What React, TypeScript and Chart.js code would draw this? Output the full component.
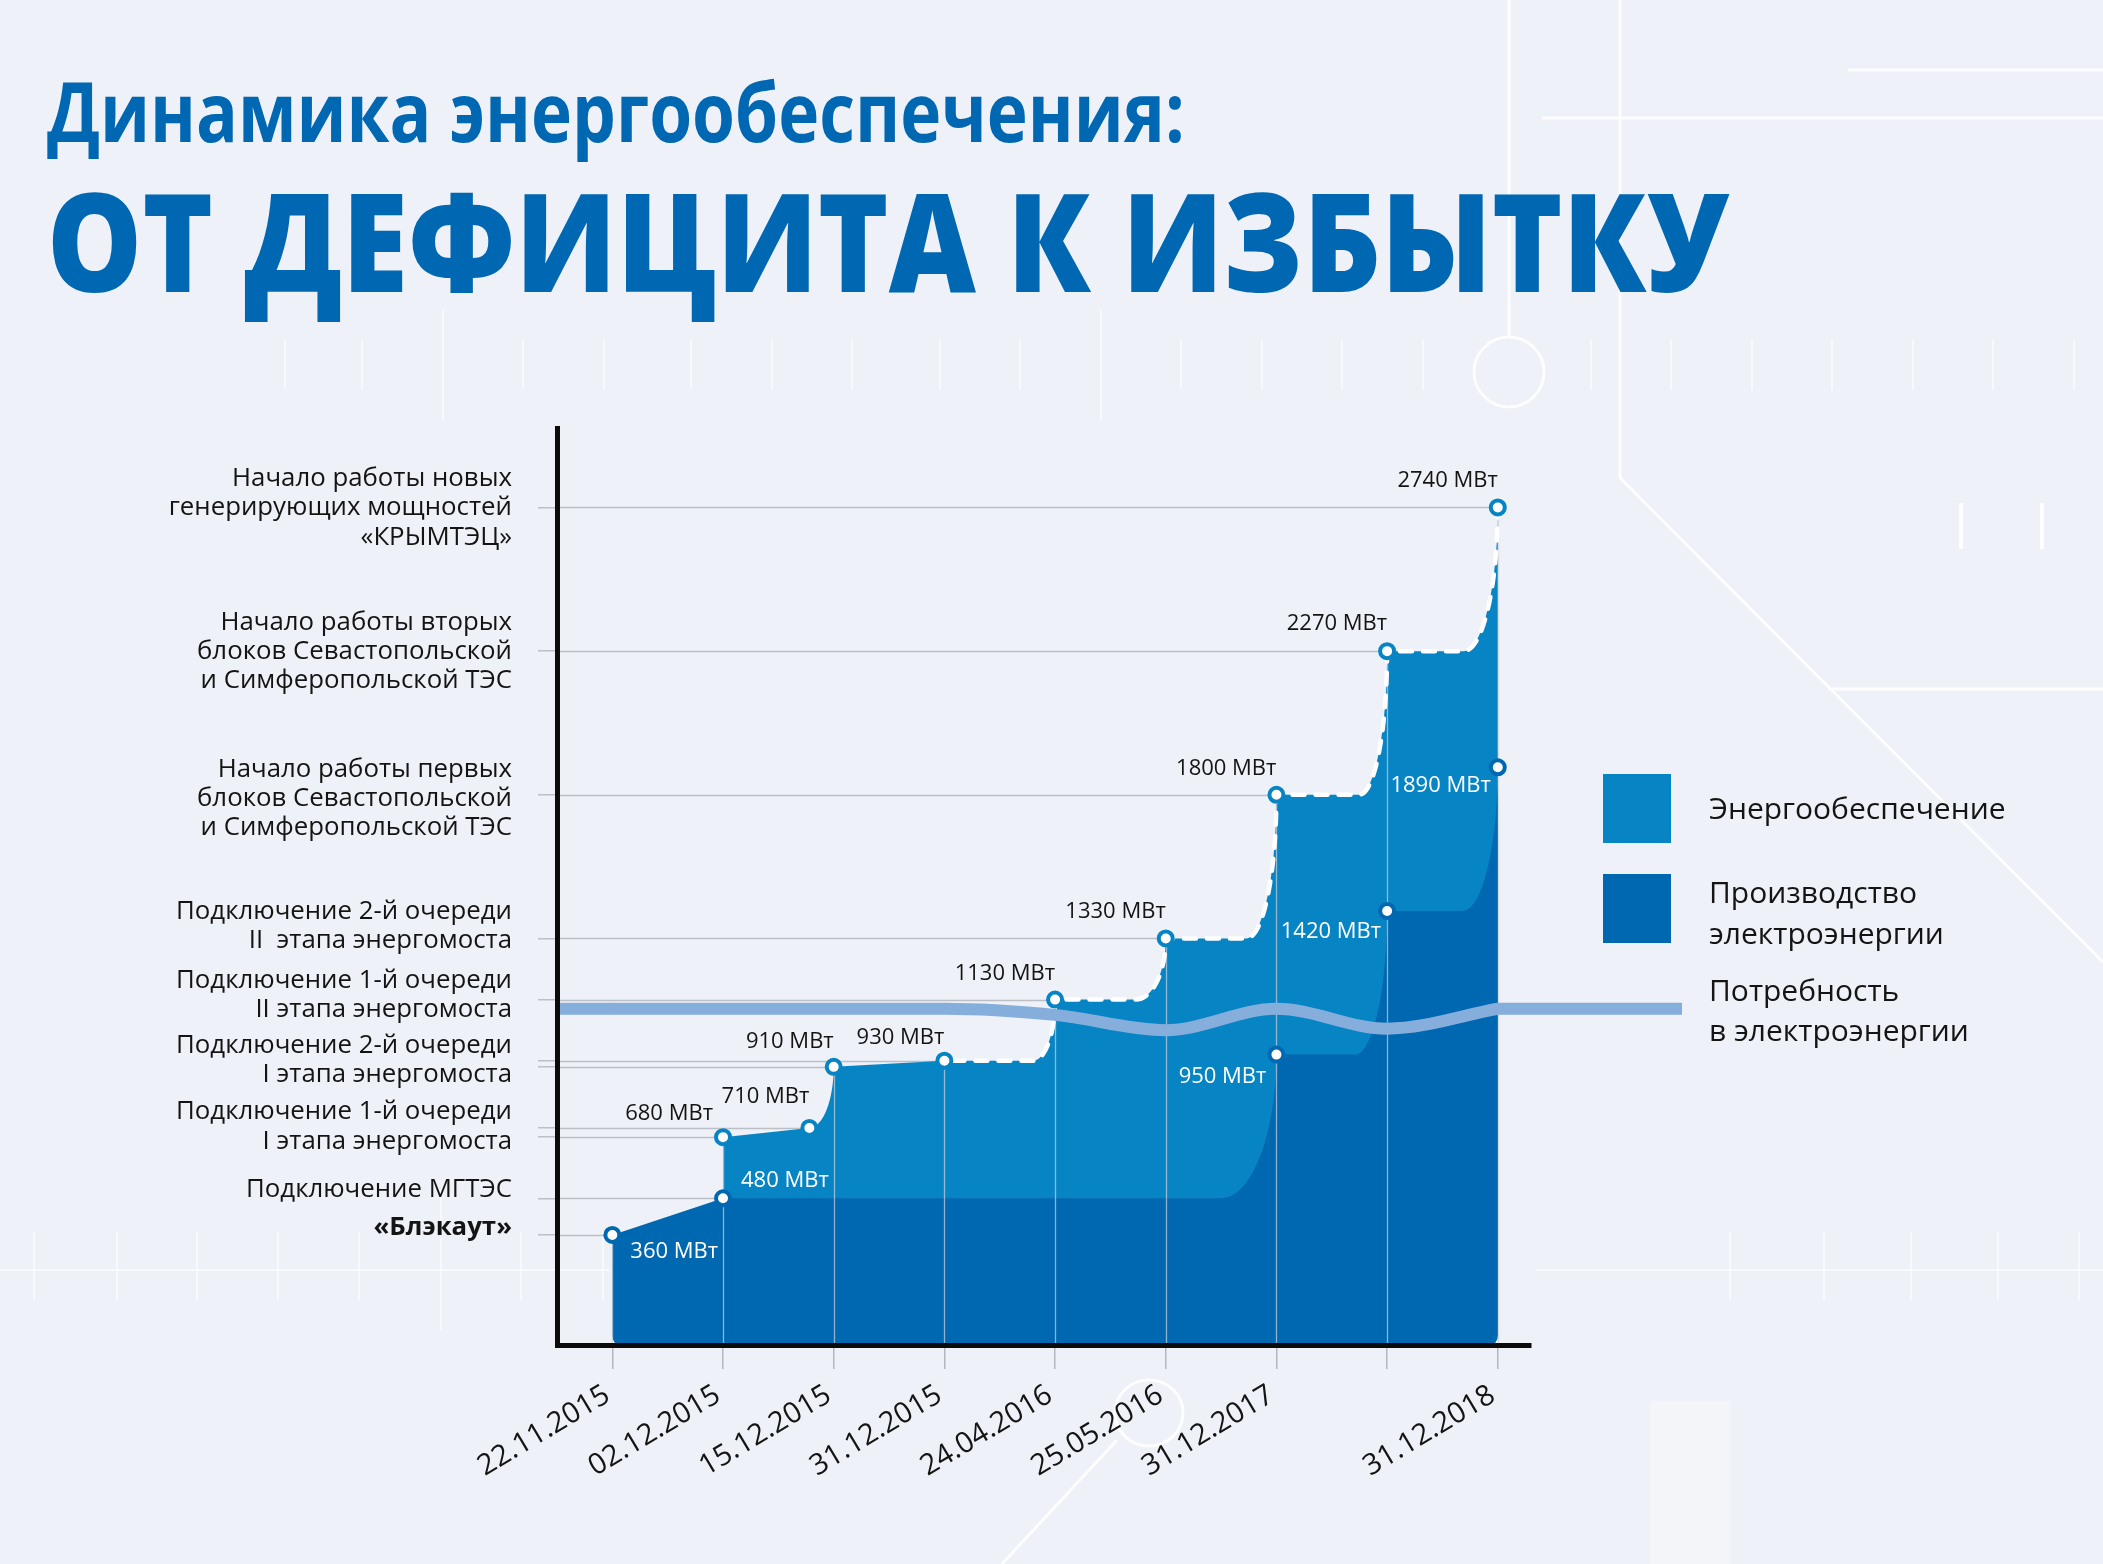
import React, { useEffect, useRef } from 'react';
import { Chart, registerables } from 'chart.js';

Chart.register(...registerables);

// ---------------- data ----------------
const dateLabels = ['22.11.2015', '02.12.2015', '15.12.2015', '31.12.2015', '24.04.2016', '25.05.2016', '31.12.2017', '', '31.12.2018'];
const dateIndex = [0, 1, 2, 3, 4, 5, 6, 7, 8];

const supplyPos = [0, 1, 1.78, 2, 3, 4, 5, 6, 7, 8];
const supplyMW = [360, 680, 710, 910, 930, 1130, 1330, 1800, 2270, 2740];

const productionPos = [0, 1, 6, 7, 8];
const productionMW = [360, 480, 950, 1420, 1890];

const demandPos = [0, 1, 2, 3, 4, 5, 6, 7, 8];
const demandMW = [1100, 1100, 1100, 1100, 1080, 1030, 1100, 1035, 1100];

const gridMW = [360, 480, 680, 710, 910, 930, 1130, 1330, 1800, 2270, 2740];
const milestoneMW = [2740, 2270, 1800, 1330, 1130, 930, 710, 480, 360];
const milestoneLabels = [
  ['Начало работы новых', 'генерирующих мощностей', '«КРЫМТЭЦ»'],
  ['Начало работы вторых', 'блоков Севастопольской', 'и Симферопольской ТЭС'],
  ['Начало работы первых', 'блоков Севастопольской', 'и Симферопольской ТЭС'],
  ['Подключение 2-й очереди', 'II  этапа энергомоста'],
  ['Подключение 1-й очереди', 'II этапа энергомоста'],
  ['Подключение 2-й очереди', 'I этапа энергомоста'],
  ['Подключение 1-й очереди', 'I этапа энергомоста'],
  ['Подключение МГТЭС'],
  ['«Блэкаут»'],
];
const legendLabels = [['Энергообеспечение'], ['Производство', 'электроэнергии'], ['Потребность', 'в электроэнергии']];
const titleLines = ['Динамика энергообеспечения:', 'ОТ ДЕФИЦИТА К ИЗБЫТКУ'];
const unit = 'МВт';

// ---------------- styles ----------------
const C = {
  bg: '#EEF1F7',
  supply: '#0784C3',
  prod: '#0067B1',
  demand: '#86AEDC',
  title: '#0067B3',
  text: '#141414',
  grid: '#bcc0c6',
};
const FONT = '"Open Sans", "Noto Sans", sans-serif';

// shape of each segment (point i -> i+1)
const supplySeg = ['step', 'line', 'round', 'line', 'round', 'round', 'round', 'round', 'round'];
const supplyRound = [0, 0, 40, 0, 22, 30, 30, 28, 34];
const prodSeg = ['line', 'round', 'round', 'round'];
const prodRound = [0, 55, 32, 35];
const dashFrom = 4;

const supplyLabelDx = [0, -10, 0, 0, 0, 0, 0, 0, 0, 0];
const supplyLabelDy = [0, -25, -33, -27, -25, -28, -28, -28, -29, -28];
const prodLabelAlign = ['left', 'left', 'right', 'right', 'right'];
const prodLabelDx = [18, 18, -10, -6, -7];
const prodLabelDy = [15, -19, 20, 19, 17];
const milestoneShift = [0, 0, 3, -13, -5, -1, -2, -9, -8];
const milestoneBold = [false, false, false, false, false, false, false, false, true];

type P = { x: number; y: number };

function tracePath(ctx: CanvasRenderingContext2D, pts: P[], seg: string[], rw: number[], start: number, move: boolean) {
  if (move) ctx.moveTo(pts[start].x, pts[start].y);
  else ctx.lineTo(pts[start].x, pts[start].y);
  for (let i = start + 1; i < pts.length; i++) {
    const a = pts[i - 1];
    const b = pts[i];
    const kind = seg[i - 1];
    if (kind === 'line') ctx.lineTo(b.x, b.y);
    else if (kind === 'step') {
      ctx.lineTo(b.x, a.y);
      ctx.lineTo(b.x, b.y);
    } else {
      const w = Math.min(rw[i - 1], b.x - a.x);
      const h = a.y - b.y;
      ctx.lineTo(b.x - w, a.y);
      ctx.bezierCurveTo(b.x - w + 0.5523 * w, a.y, b.x, b.y + 0.5523 * h, b.x, b.y);
    }
  }
}

function fillArea(ctx: CanvasRenderingContext2D, pts: P[], seg: string[], rw: number[], bottom: number, color: string) {
  const r = 10;
  const f = pts[0];
  const l = pts[pts.length - 1];
  ctx.beginPath();
  ctx.moveTo(f.x, bottom - r);
  tracePath(ctx, pts, seg, rw, 0, false);
  ctx.lineTo(l.x, bottom - r);
  ctx.quadraticCurveTo(l.x, bottom, l.x - r, bottom);
  ctx.lineTo(f.x + r, bottom);
  ctx.quadraticCurveTo(f.x, bottom, f.x, bottom - r);
  ctx.closePath();
  ctx.fillStyle = color;
  ctx.fill();
}

function fitText(ctx: CanvasRenderingContext2D, text: string, x: number, y: number, target: number, font: string) {
  ctx.save();
  ctx.font = font;
  ctx.textAlign = 'left';
  ctx.textBaseline = 'alphabetic';
  const m = ctx.measureText(text);
  const w = m.actualBoundingBoxLeft + m.actualBoundingBoxRight;
  const s = target / w;
  ctx.translate(x + m.actualBoundingBoxLeft * s, y);
  ctx.scale(s, 1);
  ctx.fillText(text, 0, 0);
  ctx.restore();
}

const infographic = {
  id: 'infographic',
  beforeDraw(chart: any) {
    const { ctx, width, height } = chart;
    ctx.save();
    ctx.fillStyle = C.bg;
    ctx.fillRect(0, 0, width, height);

    // faint decorative background
    const seg = (x1: number, y1: number, x2: number, y2: number) => {
      ctx.beginPath();
      ctx.moveTo(x1, y1);
      ctx.lineTo(x2, y2);
      ctx.stroke();
    };
    ctx.strokeStyle = 'rgba(255,255,255,0.85)';
    ctx.lineWidth = 3;
    seg(1509, 0, 1509, 336);
    ctx.beginPath();
    ctx.arc(1509, 372, 35, 0, Math.PI * 2);
    ctx.stroke();
    seg(1620, 0, 1620, 478);
    seg(1620, 478, 2103, 962);
    seg(1828, 689, 2103, 689);
    seg(1542, 118, 2103, 118);
    seg(1848, 70, 2103, 70);
    seg(1002, 1564, 1117, 1440);
    ctx.beginPath();
    ctx.ellipse(1149, 1413, 34, 33, 0, 0, Math.PI * 2);
    ctx.stroke();
    ctx.lineWidth = 4;
    seg(1961, 503, 1961, 549);
    seg(2042, 503, 2042, 549);
    ctx.strokeStyle = 'rgba(255,255,255,0.55)';
    ctx.lineWidth = 2;
    const row = [285, 362, 523, 604, 691, 772, 852, 940, 1020, 1181, 1262, 1342, 1423, 1591, 1671, 1752, 1832, 1913, 1993, 2074];
    row.forEach((x) => seg(x, 340, x, 390));
    seg(443, 310, 443, 420);
    seg(1101, 310, 1101, 420);
    seg(0, 1270, 610, 1270);
    seg(1536, 1270, 2103, 1270);
    [34, 117, 197, 278, 359, 521, 603, 1730, 1824, 1911, 1998, 2079].forEach((x) => seg(x, 1232, x, 1300));
    seg(441, 1190, 441, 1330);
    ctx.fillStyle = 'rgba(255,255,255,0.3)';
    ctx.fillRect(1650, 1401, 80, 163);

    // titles
    ctx.fillStyle = C.title;
    fitText(ctx, titleLines[0], 47, 142, 1134, `700 82px ${FONT}`);
    fitText(ctx, titleLines[1], 52, 292, 1678, `800 136px ${FONT}`);

    // legend
    ctx.fillStyle = C.supply;
    ctx.fillRect(1603, 774, 68, 69);
    ctx.fillStyle = C.prod;
    ctx.fillRect(1603, 874, 68, 69);
    ctx.fillStyle = C.text;
    ctx.font = `400 30px ${FONT}`;
    ctx.textAlign = 'left';
    ctx.textBaseline = 'alphabetic';
    const legendY = [[809], [893, 934], [991, 1031]];
    legendLabels.forEach((lines, i) => lines.forEach((t, j) => ctx.fillText(t, 1709, legendY[i][j] + 10)));
    ctx.restore();
  },
  beforeDatasetsDraw(chart: any) {
    const { ctx, chartArea: a } = chart;
    const xs = chart.scales.x;
    const ys = chart.scales.y;
    const sp: P[] = supplyPos.map((p, i) => ({ x: xs.getPixelForValue(p), y: ys.getPixelForValue(supplyMW[i]) }));
    const pp: P[] = productionPos.map((p, i) => ({ x: xs.getPixelForValue(p), y: ys.getPixelForValue(productionMW[i]) }));
    ctx.save();
    // horizontal grid lines ending at their point
    ctx.strokeStyle = C.grid;
    ctx.lineWidth = 1.5;
    gridMW.forEach((v) => {
      const k = supplyMW.indexOf(v);
      const px = k >= 0 ? sp[k].x : pp[productionMW.indexOf(v)].x;
      const py = Math.round(ys.getPixelForValue(v)) + 0.5;
      ctx.beginPath();
      ctx.moveTo(a.left, py);
      ctx.lineTo(px, py);
      ctx.stroke();
    });
    // areas
    fillArea(ctx, sp, supplySeg, supplyRound, a.bottom, C.supply);
    fillArea(ctx, pp, prodSeg, prodRound, a.bottom, C.prod);
    // drop lines
    ctx.strokeStyle = 'rgba(205,210,220,0.7)';
    ctx.lineWidth = 1.3;
    dateIndex.forEach((d) => {
      const k = supplyPos.indexOf(d);
      const px = Math.round(xs.getPixelForValue(d)) + 0.5;
      ctx.beginPath();
      ctx.moveTo(px, sp[k].y);
      ctx.lineTo(px, a.bottom);
      ctx.stroke();
    });
    // dashed outline of the supply top
    ctx.beginPath();
    tracePath(ctx, sp, supplySeg, supplyRound, dashFrom, true);
    ctx.strokeStyle = '#ffffff';
    ctx.lineWidth = 4.5;
    ctx.lineCap = 'round';
    ctx.setLineDash([12, 11]);
    ctx.lineDashOffset = -8;
    ctx.stroke();
    ctx.restore();
  },
  afterDatasetsDraw(chart: any) {
    const { ctx, chartArea: a } = chart;
    const xs = chart.scales.x;
    const ys = chart.scales.y;
    ctx.save();
    // demand line extensions: from the axis, and out to the legend
    ctx.strokeStyle = C.demand;
    ctx.lineWidth = 12;
    ctx.lineCap = 'butt';
    const d0y = ys.getPixelForValue(demandMW[0]);
    const dNy = ys.getPixelForValue(demandMW[demandMW.length - 1]);
    ctx.beginPath();
    ctx.moveTo(a.left, d0y);
    ctx.lineTo(xs.getPixelForValue(demandPos[0]) + 1, d0y);
    ctx.stroke();
    ctx.beginPath();
    ctx.moveTo(xs.getPixelForValue(demandPos[demandPos.length - 1]) - 1, dNy);
    ctx.lineTo(1682, dNy);
    ctx.stroke();

    // value labels
    ctx.font = `400 22px ${FONT}`;
    ctx.textBaseline = 'alphabetic';
    supplyMW.forEach((v, i) => {
      if (i === 0) return;
      const px = xs.getPixelForValue(supplyPos[i]);
      const py = ys.getPixelForValue(v);
      ctx.fillStyle = C.text;
      ctx.textAlign = 'right';
      ctx.fillText(`${v} ${unit}`, px + supplyLabelDx[i], py + supplyLabelDy[i] + 8);
    });
    productionMW.forEach((v, i) => {
      const px = xs.getPixelForValue(productionPos[i]);
      const py = ys.getPixelForValue(v);
      ctx.fillStyle = '#ffffff';
      ctx.textAlign = prodLabelAlign[i] as CanvasTextAlign;
      ctx.fillText(`${v} ${unit}`, px + prodLabelDx[i], py + prodLabelDy[i] + 8);
    });

    // milestone (y-axis) labels
    ctx.fillStyle = C.text;
    ctx.textAlign = 'right';
    const lh = 29.3;
    milestoneMW.forEach((v, i) => {
      const lines = milestoneLabels[i];
      const cy = ys.getPixelForValue(v) + milestoneShift[i];
      const top = cy - ((lines.length - 1) * lh) / 2;
      ctx.font = `${milestoneBold[i] ? 700 : 400} 25.8px ${FONT}`;
      lines.forEach((t, j) => ctx.fillText(t, 512, top + j * lh + 8));
    });
    ctx.restore();
  },
};

export default function App() {
  const ref = useRef<HTMLCanvasElement>(null);
  useEffect(() => {
    const canvas = ref.current;
    if (!canvas) return;
    const chart = new Chart(canvas, {
      type: 'line',
      data: {
        datasets: [
          {
            label: 'Потребность в электроэнергии',
            data: demandPos.map((x, i) => ({ x, y: demandMW[i] })),
            borderColor: C.demand,
            borderWidth: 12,
            pointRadius: 0,
            cubicInterpolationMode: 'monotone',
            fill: false,
            order: 3,
          },
          {
            label: 'Производство электроэнергии',
            data: productionPos.map((x, i) => ({ x, y: productionMW[i] })),
            showLine: false,
            pointRadius: 7,
            pointBorderWidth: 4,
            pointBackgroundColor: '#ffffff',
            pointBorderColor: C.prod,
            order: 2,
          },
          {
            label: 'Энергообеспечение',
            data: supplyPos.map((x, i) => ({ x, y: supplyMW[i] })),
            showLine: false,
            pointRadius: (c: any) => (c.dataIndex === 0 ? 0 : 7),
            pointBorderWidth: 4,
            pointBackgroundColor: '#ffffff',
            pointBorderColor: C.supply,
            order: 1,
          },
        ],
      } as any,
      options: {
        responsive: false,
        animation: false,
        devicePixelRatio: 1,
        events: [],
        layout: { padding: { top: 428, right: 572, left: 0, bottom: 0 } },
        plugins: { legend: { display: false }, tooltip: { enabled: false }, title: { display: false } },
        scales: {
          x: {
            type: 'linear',
            min: -0.5,
            max: 8.3,
            afterBuildTicks: (s: any) => {
              s.ticks = dateIndex.map((v) => ({ value: v }));
            },
            afterFit: (s: any) => {
              s.height = 219;
            },
            grid: { display: true, drawOnChartArea: false, drawTicks: true, tickLength: 24, color: '#b4b8be', lineWidth: 1.5 },
            border: { display: true, color: '#0b0b0b', width: 5, z: 1 },
            ticks: {
              callback: (_v: any, i: number) => dateLabels[i] ?? '',
              minRotation: 31,
              maxRotation: 31,
              autoSkip: false,
              padding: 9,
              labelOffset: -5,
              color: C.text,
              font: { family: FONT, size: 29 },
            },
          },
          y: {
            type: 'linear',
            min: 0,
            max: 3000,
            afterBuildTicks: (s: any) => {
              s.ticks = gridMW.map((v) => ({ value: v }));
            },
            afterFit: (s: any) => {
              s.width = 557;
            },
            grid: { display: true, drawOnChartArea: false, drawTicks: true, tickLength: 19, color: C.grid, lineWidth: 1.5 },
            border: { display: true, color: '#0b0b0b', width: 5, z: 1 },
            ticks: { display: false },
          },
        },
      } as any,
      plugins: [infographic],
    });
    return () => chart.destroy();
  }, []);
  return (
    <div style={{ position: 'fixed', left: 0, top: 0, width: 2103, height: 1564, background: C.bg }}>
      <canvas ref={ref} width={2103} height={1564} style={{ display: 'block', width: 2103, height: 1564 }} />
    </div>
  );
}
